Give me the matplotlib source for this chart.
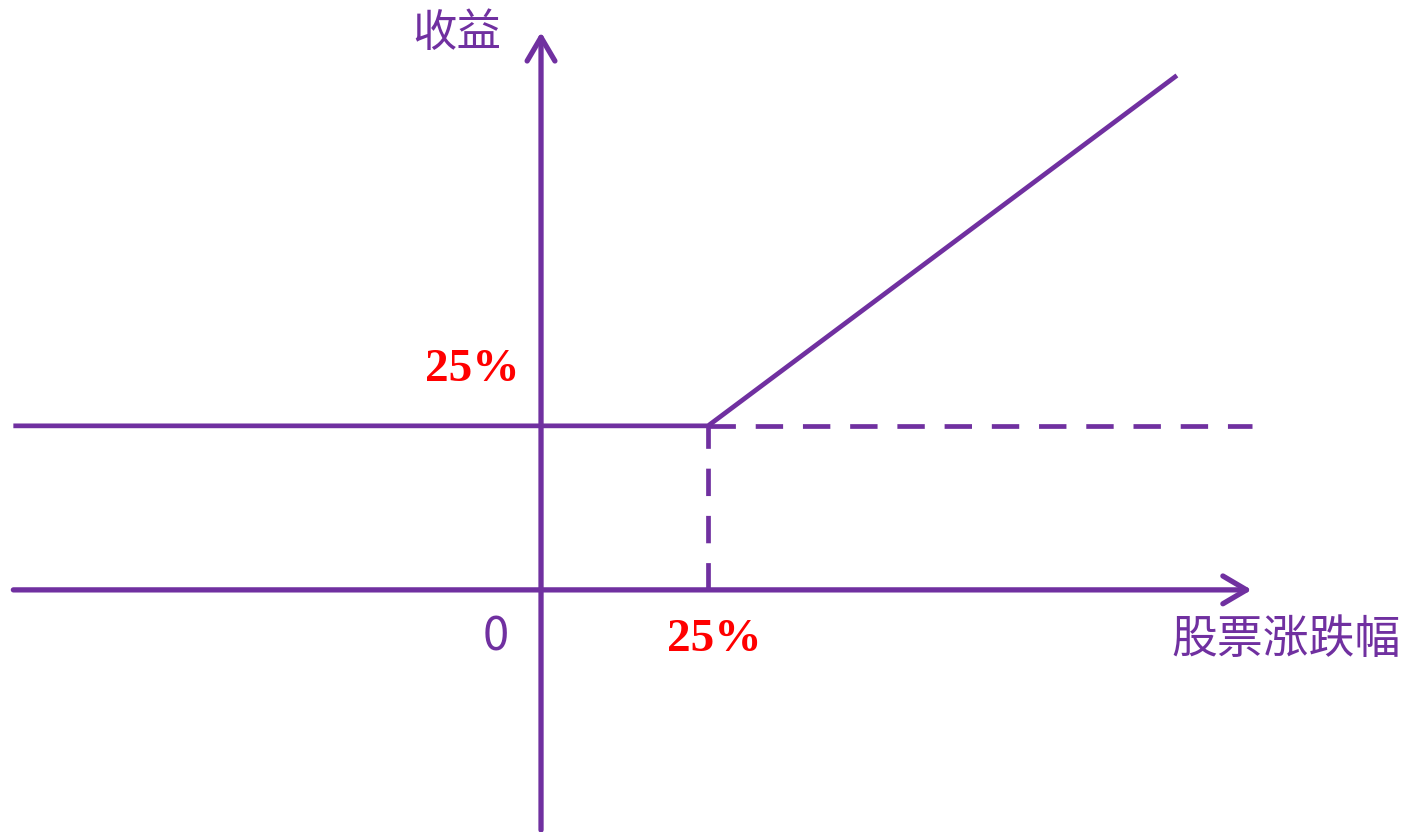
import matplotlib
matplotlib.use("Agg")
import matplotlib.pyplot as plt

# payoff diagram values (percent)
strike = 25
floor_return = 25
payoff_x = [-79, 25, 95.2]
payoff_y = [25, 25, 78.4]
x_axis_span = [-79, 106.4]
y_axis_span = [-36.6, 85]
dash_x_end = 106.4

x_label = "股票涨跌幅"
y_label = "收益"
origin_label = "0"
strike_label = "25%"

purple = "#7030A0"
red = "#FF0000"
cjk = ["Noto Sans CJK SC", "DejaVu Sans"]

fig = plt.figure(figsize=(14.12, 8.32), dpi=100)
ax = fig.add_axes([0, 0, 1, 1])
ax.set_xlim(-81.0, 130.4)
ax.set_ylim(-36.9, 89.9)
ax.axis("off")

lw = 3.4

# axes with arrows
arrow = dict(arrowstyle="->,head_length=0.85,head_width=0.5", lw=lw + 0.4, color=purple,
             shrinkA=0, shrinkB=0, mutation_scale=20, capstyle="round", joinstyle="round")
ax.annotate("", xy=(x_axis_span[1], 0), xytext=(x_axis_span[0], 0), arrowprops=arrow)
ax.annotate("", xy=(0, y_axis_span[1]), xytext=(0, y_axis_span[0]), arrowprops=arrow)

# payoff line
ax.plot(payoff_x, payoff_y, color=purple, lw=lw, solid_capstyle="butt", solid_joinstyle="miter")

# dashed guides
ax.plot([strike, dash_x_end], [floor_return, floor_return], color=purple, lw=lw,
        dashes=(5.8, 4.2), dash_capstyle="butt")
ax.plot([strike, strike], [0, floor_return], color=purple, lw=lw,
        dashes=(5.8, 4.2), dash_capstyle="butt")

# labels
ax.text(-12.6, 84.8, y_label, color=purple, fontsize=32, family=cjk, ha="center", va="center")
ax.text(111.5, -7.6, x_label, color=purple, fontsize=33, family=cjk, ha="center", va="center")
ax.text(-6.8, -7.2, origin_label, color=purple, fontsize=34, family=cjk, ha="center", va="center")
ax.text(-10.3, 33.5, strike_label, color=red, fontsize=34, family="Liberation Serif",
        weight="bold", ha="center", va="center")
ax.text(26.0, -7.6, strike_label, color=red, fontsize=34, family="Liberation Serif",
        weight="bold", ha="center", va="center")

fig.savefig("out.png", dpi=100)
